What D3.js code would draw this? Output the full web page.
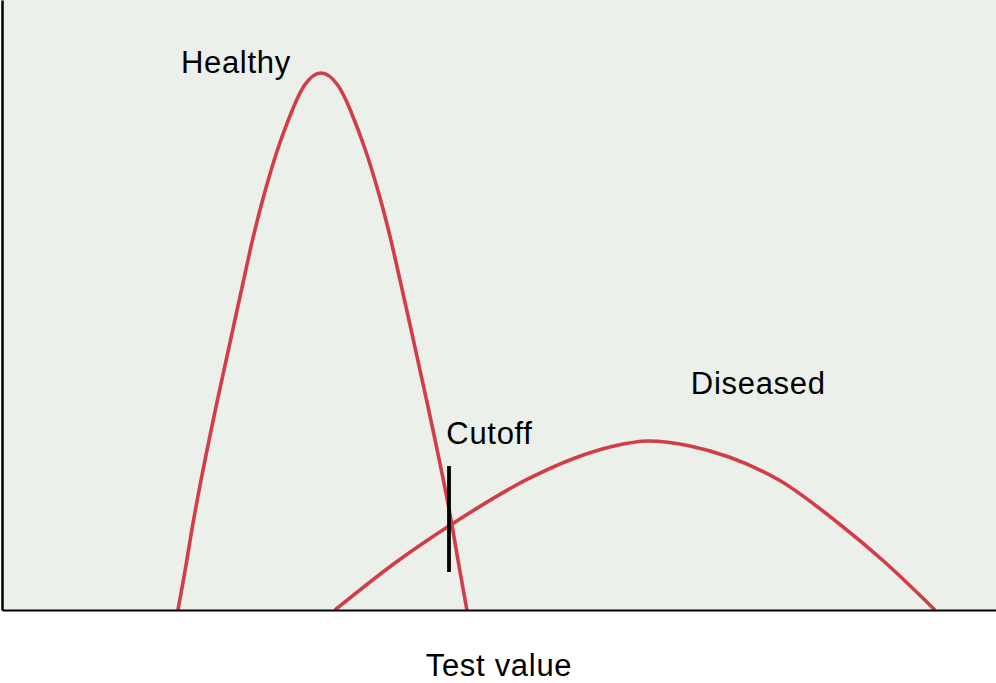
<!DOCTYPE html>
<html lang="en">
<head>
<meta charset="UTF-8">
<title>Healthy vs Diseased</title>
<script src="https://d3js.org/d3.v7.min.js"></script>
<style>
  body { margin: 0; background: #fff; }
  svg { display: block; font-family: "Liberation Sans", Arial, Helvetica, sans-serif; }
</style>
</head>
<body>
<svg id="chart" width="996" height="683"></svg>
<script>
  // distribution outlines (test value, frequency)
  const healthyX = [17.70, 18.60, 19.64, 21.68, 23.43, 24.97, 26.22, 27.71, 29.21, 30.45, 32.09,
                    33.77, 35.04, 36.56, 38.09, 39.36, 40.94, 42.71, 44.80, 45.87, 46.77];
  const healthyY = [0, 8.20, 18.03, 34.43, 47.54, 59.02, 67.21, 75.41, 81.97, 86.07, 88.03,
                    86.07, 81.97, 75.41, 67.21, 59.02, 47.54, 34.43, 18.03, 8.20, 0];

  const diseasedX = [33.50, 39.74, 44.97, 52.92, 57.65, 61.37, 64.99, 69.22, 73.14, 78.17, 84.31, 88.63, 93.86];
  const diseasedY = [0, 7.95, 13.77, 21.48, 24.92, 26.80, 27.70, 26.89, 25.08, 21.31, 14.02, 8.11, 0];

  const cutoff = 44.97;
  const cutoffRange = [6.23, 23.6];

  const labels = ["Healthy", "Diseased", "Cutoff"];
  const axisLabel = "Test value";

  const width = 996;
  const plotBottom = 610;

  const svg = d3.select("#chart");

  const x = d3.scaleLinear().domain([0, 100]).range([2, width]);
  const y = d3.scaleLinear().domain([0, 100]).range([plotBottom, 0]);

  // plot background
  svg.append("rect")
    .attr("x", x(0)).attr("y", y(100))
    .attr("width", x(100) - x(0))
    .attr("height", y(0) - y(100))
    .attr("fill", "#ebf0ea");

  // steep healthy curve -> parametric spline, flat diseased curve -> spline in x
  const lineSteep = d3.line()
    .x(d => x(d[0]))
    .y(d => y(d[1]))
    .curve(d3.curveNatural);

  const lineFlat = d3.line()
    .x(d => x(d[0]))
    .y(d => y(d[1]))
    .curve(d3.curveMonotoneX);

  const series = [
    { pts: d3.zip(healthyX, healthyY), gen: lineSteep },
    { pts: d3.zip(diseasedX, diseasedY), gen: lineFlat }
  ];

  svg.selectAll(".dist")
    .data(series)
    .enter().append("path")
    .attr("class", "dist")
    .attr("d", d => d.gen(d.pts))
    .attr("fill", "none")
    .attr("stroke", "#d23d48")
    .attr("stroke-width", 3.6)
    .attr("stroke-linejoin", "round");

  // cutoff marker
  svg.append("line")
    .attr("x1", x(cutoff)).attr("x2", x(cutoff))
    .attr("y1", y(cutoffRange[0])).attr("y2", y(cutoffRange[1]))
    .attr("stroke", "#000")
    .attr("stroke-width", 3.8);

  // axes without ticks
  svg.append("g")
    .attr("transform", `translate(0,${plotBottom})`)
    .call(d3.axisBottom(x).tickValues([]).tickSizeOuter(0))
    .call(g => g.select(".domain").attr("stroke", "#000").attr("stroke-width", 2));

  svg.append("g")
    .attr("transform", `translate(${x(0)},0)`)
    .call(d3.axisLeft(y).tickValues([]).tickSizeOuter(0))
    .call(g => g.select(".domain").attr("stroke", "#000").attr("stroke-width", 2.5));

  // annotations
  const labelPos = [[18.0, 88.0], [69.3, 35.4], [44.7, 27.2]];
  svg.selectAll(".lbl")
    .data(labels)
    .enter().append("text")
    .attr("class", "lbl")
    .attr("x", (d, i) => x(labelPos[i][0]))
    .attr("y", (d, i) => y(labelPos[i][1]))
    .attr("font-size", 31)
    .attr("letter-spacing", 0.7)
    .attr("fill", "#000")
    .text(d => d);

  svg.append("text")
    .attr("x", (x(0) + x(100)) / 2)
    .attr("y", 676)
    .attr("text-anchor", "middle")
    .attr("font-size", 31)
    .attr("letter-spacing", 0.7)
    .attr("fill", "#000")
    .text(axisLabel);
</script>
</body>
</html>
